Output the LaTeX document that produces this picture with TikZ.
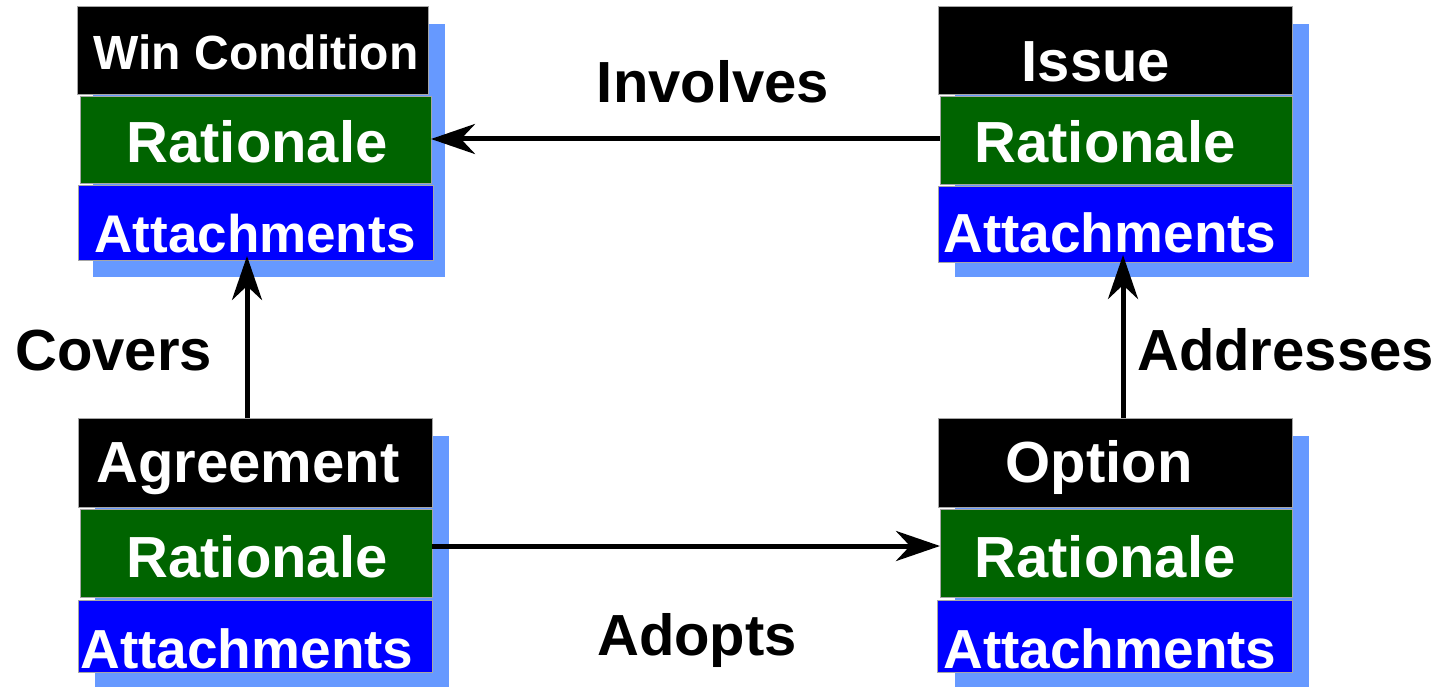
\documentclass[tikz,border=0pt]{standalone}
\usepackage{fontspec}
\setmainfont{Liberation Sans}
\usetikzlibrary{arrows.meta}
\definecolor{shadowblue}{HTML}{6699FF}
\definecolor{ratgreen}{HTML}{006400}
\definecolor{attblue}{HTML}{0000FF}
\tikzset{
  stripe/.style={draw=gray!70, line width=1pt, inner sep=0pt, outer sep=0pt},
  hdr/.style={stripe, fill=black},
  rat/.style={stripe, fill=ratgreen},
  att/.style={stripe, fill=attblue},
  shadowbox/.style={fill=shadowblue, inner sep=0pt, outer sep=0pt},
  wtxt/.style={text=white, inner sep=0pt, anchor=base, font=\bfseries\fontsize{58}{60}\selectfont},
  ltxt/.style={text=black, inner sep=0pt, font=\bfseries\fontsize{58}{60}\selectfont},
  arr/.style={draw=black, line width=5pt, -{Stealth[length=44pt, width=30pt, inset=14pt]}}
}
\begin{document}
\begin{tikzpicture}[x=1pt, y=-1pt]
\useasboundingbox (0,0) rectangle (1440,687);
% ---- Win Condition ----
\node[shadowbox, minimum width=352pt, minimum height=253pt] (wsh) at (269,150.5) {};
\node[hdr, minimum width=351pt, minimum height=88pt] (wh) at (252.5,51) {};
\node[rat, minimum width=351pt, minimum height=87pt] (wr) at (255.5,140.5) {};
\node[att, minimum width=355pt, minimum height=74pt] (wa) at (255.5,223) {};
\node[wtxt, font=\bfseries\fontsize{48}{50}\selectfont] (wht) at (256,70) {Win Condition};
\node[wtxt] (wrt) at (257,163) {Rationale};
\node[wtxt, font=\bfseries\fontsize{53}{55}\selectfont] (wat) at (255,252) {Attachments};
% ---- Issue ----
\node[shadowbox, minimum width=354pt, minimum height=253pt] (ish) at (1132,150.5) {};
\node[hdr, minimum width=354pt, minimum height=88pt] (ih) at (1115,51) {};
\node[rat, minimum width=352pt, minimum height=88pt] (ir) at (1116,141) {};
\node[att, minimum width=354pt, minimum height=75pt] (ia) at (1115,224.5) {};
\node[wtxt] (iht) at (1096,82) {Issue};
\node[wtxt] (irt) at (1105,163) {Rationale};
\node[wtxt, font=\bfseries\fontsize{55}{57}\selectfont] (iat) at (1110,252) {Attachments};
% ---- Agreement ----
\node[shadowbox, minimum width=354pt, minimum height=251pt] (gsh) at (272,561.5) {};
\node[hdr, minimum width=354pt, minimum height=89pt] (gh) at (255,462.5) {};
\node[rat, minimum width=352pt, minimum height=88pt] (gr) at (256,553) {};
\node[att, minimum width=354pt, minimum height=72pt] (ga) at (255,636) {};
\node[wtxt] (ght) at (248,482) {Agreement};
\node[wtxt] (grt) at (257,577) {Rationale};
\node[wtxt, font=\bfseries\fontsize{55}{57}\selectfont] (gat) at (247,668) {Attachments};
% ---- Option ----
\node[shadowbox, minimum width=354pt, minimum height=251pt] (osh) at (1132,561.5) {};
\node[hdr, minimum width=354pt, minimum height=89pt] (oh) at (1115,462.5) {};
\node[rat, minimum width=352pt, minimum height=88pt] (or) at (1116,553) {};
\node[att, minimum width=355pt, minimum height=72pt] (oa) at (1114.5,636) {};
\node[wtxt] (oht) at (1099,482) {Option};
\node[wtxt] (ort) at (1105,577) {Rationale};
\node[wtxt, font=\bfseries\fontsize{55}{57}\selectfont] (oat) at (1110,668) {Attachments};
% ---- connectors ----
\draw[arr] ([yshift=2pt]ir.west) -- ([yshift=2pt]ir.west -| wr.east);
\draw[arr, shorten >=-4pt] ([xshift=-8pt]gh.north) -- ([xshift=-8pt]gh.north |- wa.south);
\draw[arr, shorten >=-7pt] ([xshift=8pt]oh.north) -- ([xshift=8pt]oh.north |- ia.south);
\draw[arr] ([yshift=7pt]gr.east) -- ([yshift=7pt]gr.east -| or.west);
% ---- labels ----
\node[ltxt, anchor=base] (linv) at (713,103) {Involves};
\node[ltxt, anchor=base west] (lcov) at (15,370) {Covers};
\node[ltxt, anchor=base west] (ladd) at (1137,370) {Addresses};
\node[ltxt, anchor=base] (lado) at (697,655) {Adopts};
\end{tikzpicture}
\end{document}
